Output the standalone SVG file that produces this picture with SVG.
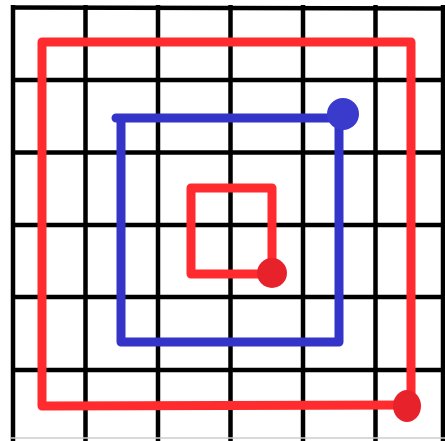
<svg xmlns="http://www.w3.org/2000/svg" width="445" height="441" viewBox="0 0 445 441">
<style>
.grid line{stroke:#000;stroke-width:4.5}
.red{fill:none;stroke:#ff2b2e;stroke-width:9;stroke-linejoin:round;stroke-linecap:round}
.blue{fill:none;stroke:#3434c8;stroke-width:9;stroke-linejoin:round;stroke-linecap:round}
.rdot{fill:#e8222b}
.bdot{fill:#3a3acc}
</style>
<rect width="445" height="441" fill="#fff"/>
<g id="grid" class="grid">
<line x1="13" y1="5" x2="13" y2="441"/>
<line x1="85.5" y1="5" x2="85.5" y2="441"/>
<line x1="158" y1="5" x2="158" y2="441"/>
<line x1="230.5" y1="5" x2="230.5" y2="441"/>
<line x1="303" y1="5" x2="303" y2="441"/>
<line x1="375.5" y1="5" x2="375.5" y2="441"/>
<line x1="443" y1="5" x2="443" y2="441"/>
<line x1="11" y1="7.5" x2="445" y2="8.5"/>
<line x1="11" y1="80" x2="445" y2="80"/>
<line x1="11" y1="152.5" x2="445" y2="152.5"/>
<line x1="11" y1="225" x2="445" y2="225"/>
<line x1="11" y1="297" x2="445" y2="297"/>
<line x1="11" y1="370" x2="445" y2="370"/>
<line x1="11" y1="438" x2="445" y2="438" style="stroke:#ccc;stroke-width:1.5"/>
</g>
<g id="connectors">
<path id="outer-red" class="red" d="M406 405 L42 406 L42 42 L411 42 L411 400"/>
<path id="blue-square" class="blue" d="M341 116 L339 118 L339 342 L121 342 L121 118 L116 118 M121 118 L341 118"/>
<path id="inner-red" class="red" d="M272 272 L272 188 L191 188 L191 274 L268 274"/>
</g>
<g id="outer-red-end"><ellipse class="rdot" cx="407" cy="406" rx="14" ry="16"/></g>
<g id="blue-end"><circle class="bdot" cx="343" cy="114" r="16"/></g>
<g id="inner-red-end"><circle class="rdot" cx="272" cy="273" r="15"/></g>
</svg>
